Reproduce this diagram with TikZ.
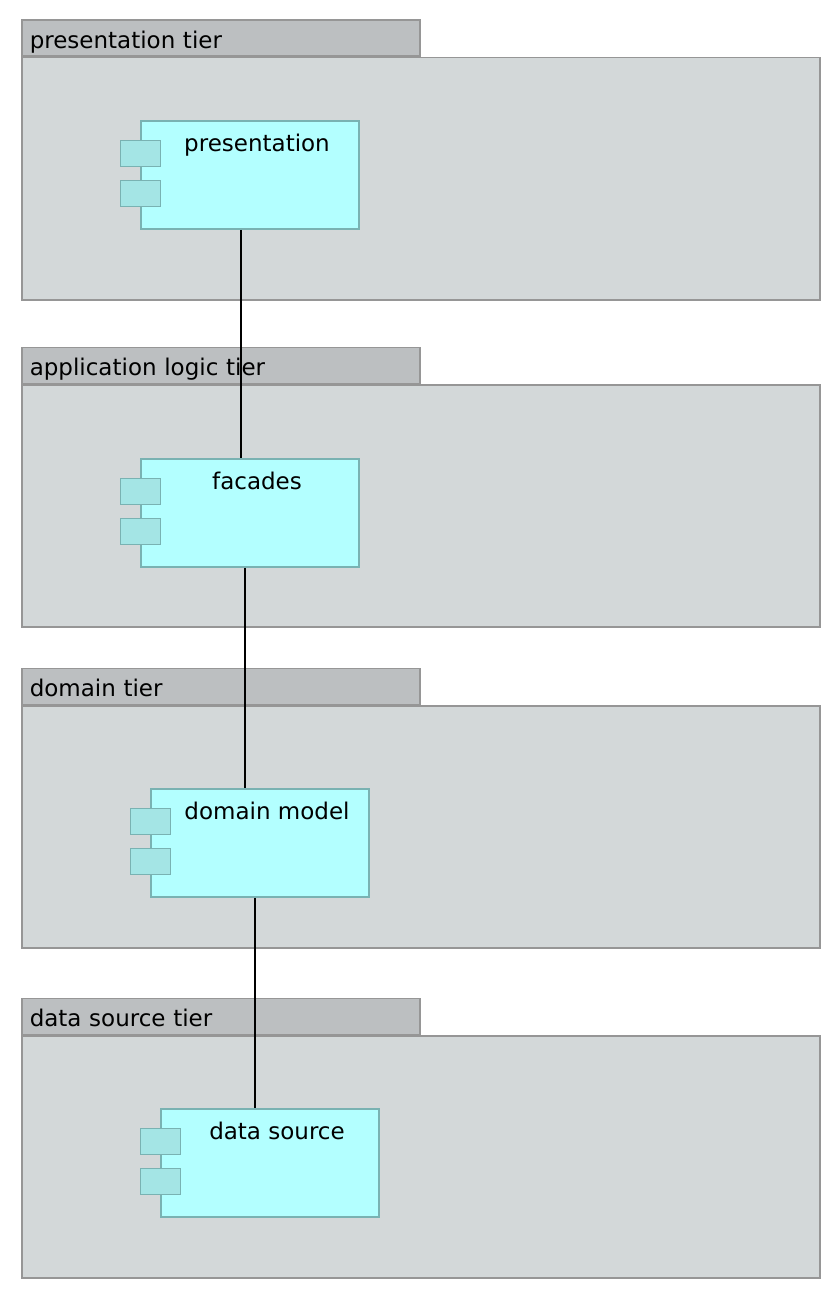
\documentclass[tikz,border=0pt]{standalone}
\usepackage{fontspec}
\setmainfont{DejaVu Sans}
\usepackage{tikz}
\definecolor{pkgline}{RGB}{150,150,150}
\definecolor{pkgbody}{RGB}{211,216,217}
\definecolor{pkgtab}{RGB}{188,191,193}
\definecolor{compline}{RGB}{121,178,178}
\definecolor{compfill}{RGB}{179,255,255}
\definecolor{portfill}{RGB}{164,229,229}

\begin{document}
\begin{tikzpicture}[x=1pt, y=-1pt, font=\fontsize{23}{27}\selectfont,
        tier/.style={rectangle, draw=pkgline, fill=pkgbody, line width=1.5pt, minimum width=798pt, minimum height=242pt, inner sep=0pt, anchor=north west},
        tab/.style={rectangle, draw=pkgline, fill=pkgtab, line width=1.5pt, minimum height=36pt, text width=382pt, text height=22pt, text depth=2pt, inner xsep=8pt, inner ysep=0pt, align=left, anchor=south west},
        comp/.style={rectangle, draw=compline, fill=compfill, line width=1.5pt, minimum width=218pt, minimum height=108pt, inner sep=0pt},
        port/.style={rectangle, draw=compline, fill=portfill, line width=1.5pt, minimum width=40pt, minimum height=26pt, inner sep=0pt},
        complabel/.style={anchor=base, inner sep=0pt}]
        \useasboundingbox[fill=white] (0,0) rectangle (840,1298);

        \node[tier] (t1) at (21,57) {};
        \node[tab] (t1tab) at (t1.north west) {presentation tier};
        \node[tier] (t2) at (21,384) {};
        \node[tab] (t2tab) at (t2.north west) {application logic tier};
        \node[tier] (t3) at (21,705) {};
        \node[tab] (t3tab) at (t3.north west) {domain tier};
        \node[tier] (t4) at (21,1035) {};
        \node[tab] (t4tab) at (t4.north west) {data source tier};

        \node[comp] (pres) at (250,175) {};
        \node[comp] (fac) at (250,513) {};
        \node[comp] (dom) at (260,843) {};
        \node[comp] (ds) at (270,1163) {};

        \foreach \c in {pres, fac, dom, ds} {
            \node[port] (\c p1) at ([yshift=-33pt]\c.north west) {};
            \node[port] (\c p2) at ([yshift=-73pt]\c.north west) {};
        }

        \node[complabel] (presname) at ([xshift=7pt, yshift=-31pt]pres.north) {presentation};
        \node[complabel] (facname) at ([xshift=7pt, yshift=-31pt]fac.north) {facades};
        \node[complabel] (domname) at ([xshift=7pt, yshift=-31pt]dom.north) {domain model};
        \node[complabel] (dsname) at ([xshift=7pt, yshift=-31pt]ds.north) {data source};

        \draw[line width=1.5pt] ([xshift=-9pt]pres.south) -- ([xshift=-9pt]fac.north);
        \draw[line width=1.5pt] ([xshift=-5pt]fac.south) -- ([xshift=-15pt]dom.north);
        \draw[line width=1.5pt] ([xshift=-5pt]dom.south) -- ([xshift=-15pt]ds.north);
    \end{tikzpicture}
\end{document}
